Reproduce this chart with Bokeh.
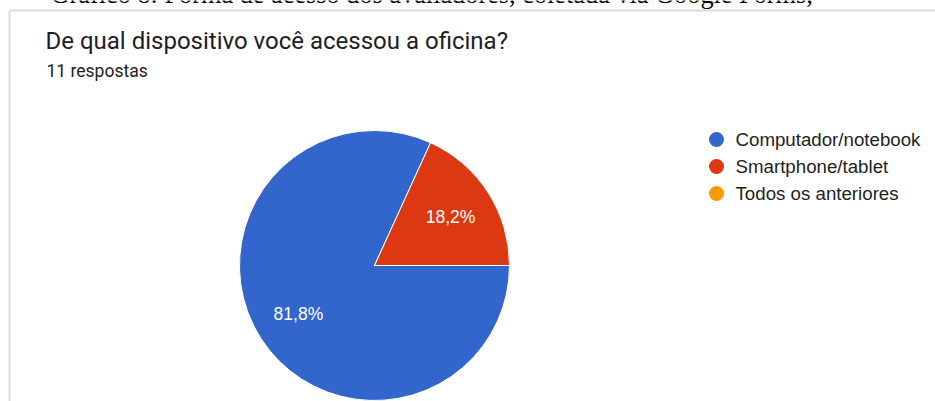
import math
from bokeh.plotting import figure
from bokeh.models import Range1d, ColumnDataSource
from bokeh.core.properties import value
from bokeh.embed import file_html
from bokeh.resources import INLINE

# ---- data ----
categories = ["Computador/notebook", "Smartphone/tablet", "Todos os anteriores"]
counts = [9, 2, 0]
colors = ["#3366cc", "#dc3912", "#ff9900"]
title = "De qual dispositivo você acessou a oficina?"
subtitle = "11 respostas"
caption = "Gráfico 8: Forma de acesso dos avaliadores, coletada via Google Forms,"

W, H = 935, 401
def sy(y):
    return H - y

p = figure(width=W, height=H, output_backend="svg", toolbar_location=None,
           x_range=Range1d(0, W), y_range=Range1d(0, H), min_border=0)
p.axis.visible = False
p.grid.visible = False
p.outline_line_color = None
p.background_fill_color = "white"
p.border_fill_color = "white"

# card border
p.segment(x0=[9, 9], y0=[sy(10), sy(10)], x1=[W + 5, 9], y1=[sy(10), -5],
          line_color="#dadce0", line_width=2)

# caption (cropped at top, as in the source screenshot)
p.text(x=[50], y=[sy(-6)], text=[caption], text_font=value("Liberation Serif"),
       text_font_size="26.3px", text_color="#000000", text_baseline="middle")

# title
p.text(x=[45], y=[sy(40)], text=[title], text_font=value("Roboto"),
       text_font_size="24px", text_color="#202124", text_baseline="middle")
p.text(x=[46], y=[sy(70)], text=[subtitle], text_font=value("Roboto"),
       text_font_size="17.5px", text_color="#202124", text_baseline="middle")

# pie
cx, cy, r = 374, sy(265), 135
total = sum(counts)
starts, ends, pcols, lx, ly, ltxt = [], [], [], [], [], []
acc = 0.0
for c, col in zip(counts, colors):
    if c == 0:
        continue
    a0 = -acc / total * 2 * math.pi
    acc += c
    a1 = -acc / total * 2 * math.pi
    starts.append(a0)
    ends.append(a1)
    pcols.append(col)
    mid = (a0 + a1) / 2
    lx.append(cx + 0.67 * r * math.cos(mid))
    ly.append(cy + 0.67 * r * math.sin(mid))
    ltxt.append(f"{100 * c / total:.1f}%".replace(".", ","))

src = ColumnDataSource(dict(s=starts, e=ends, c=pcols))
p.wedge(x=cx, y=cy, radius=r, start_angle="s", end_angle="e", direction="clock",
        fill_color="c", line_color="white", line_width=1, source=src)
p.text(x=lx, y=ly, text=ltxt, text_font=value("Liberation Sans"), text_font_size="17.5px",
       text_color="white", text_align="center", text_baseline="middle")

# legend
leg_y = [sy(139 + 27 * i) for i in range(len(categories))]
p.scatter(x=[716] * len(categories), y=leg_y, size=15, marker="circle",
          fill_color=colors, line_color=None)
p.text(x=[735] * len(categories), y=leg_y, text=categories,
       text_font=value("Liberation Sans"), text_font_size="18.7px", text_color="#222222",
       text_baseline="middle")

open("out.html", "w").write(file_html(p, INLINE))
